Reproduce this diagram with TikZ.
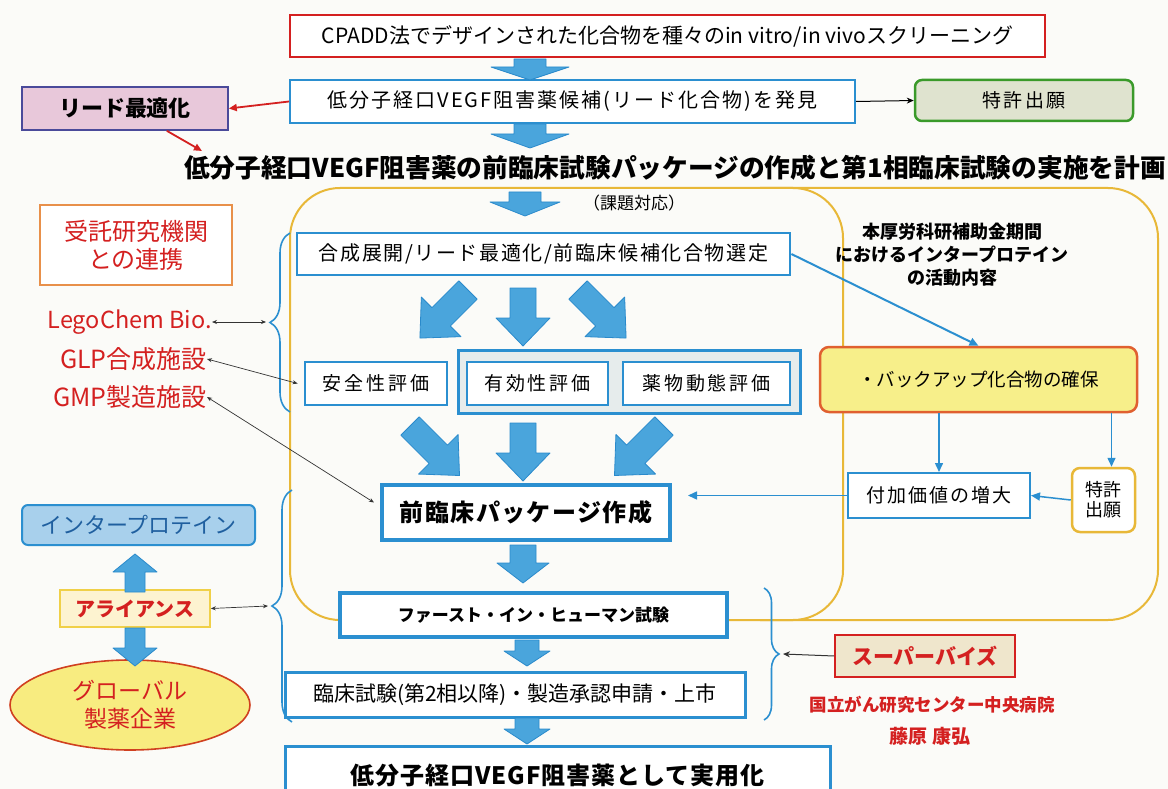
\documentclass[tikz,border=0pt]{standalone}
\usepackage{fontspec}
\setmainfont{Noto Sans CJK JP}
\usetikzlibrary{decorations.pathreplacing,arrows.meta,shapes.geometric}
\definecolor{bgc}{HTML}{FBFBF8}
\definecolor{bl}{HTML}{2B8FD0}
\definecolor{fatc}{HTML}{4AA5DC}
\definecolor{fatd}{HTML}{2A8ACB}
\definecolor{rd}{HTML}{D42020}
\definecolor{yl}{HTML}{E8B838}
\definecolor{pinkf}{HTML}{E8C8DA}
\definecolor{purp}{HTML}{4A4A9A}
\definecolor{grn}{HTML}{3A9A2A}
\definecolor{grnf}{HTML}{DFE3CF}
\definecolor{org}{HTML}{E8904A}
\definecolor{ibf}{HTML}{A8D0EC}
\definecolor{ibt}{HTML}{1F5F9F}
\definecolor{alf}{HTML}{FDF3D0}
\definecolor{alb}{HTML}{F0D048}
\definecolor{elf}{HTML}{F8EC80}
\definecolor{elb}{HTML}{D04020}
\definecolor{bkf}{HTML}{F7EF8A}
\definecolor{bkb}{HTML}{E06030}
\definecolor{svf}{HTML}{EFE6CC}
\definecolor{grpf}{HTML}{E6ECEC}
\newcommand\fsz[1]{\fontsize{#1}{#1}\selectfont}
\newcommand\fatarr[7]{\path[fatarrow, shift={(#1,#2)}, rotate=#3] (0,-#5/2) -- (#4-#7,-#5/2) -- (#4-#7,-#6/2) -- (#4,0) -- (#4-#7,#6/2) -- (#4-#7,#5/2) -- (0,#5/2) -- cycle;}
\tikzset{
  fatarrow/.style={fill=fatc, draw=fatd, line width=0.8pt, line join=round},
  bbox/.style={draw=bl, line width=2.8pt, fill=white, inner sep=0pt, align=center},
  thin2/.style={<->, >={Stealth[length=5pt,width=4pt]}, line width=0.7pt, black!80},
  bluearr/.style={->, >={Triangle[length=9pt,width=8pt]}, draw=bl, line width=1.5pt},
  redarr/.style={->, >={Triangle[length=8pt,width=7pt]}, draw=rd, line width=1.8pt},
  brc/.style={decorate, draw=bl, line width=1.6pt},
  redtxt/.style={text=rd, inner sep=0pt},
}
\begin{document}
\begin{tikzpicture}[x=1pt,y=-1pt]
\useasboundingbox (0,0) rectangle (1168,789);
\clip (0,0) rectangle (1168,789);
\fill[bgc] (0,0) rectangle (1168,789);

% yellow panels
\draw[yl, line width=2pt, rounded corners=50pt] (290,188) rectangle (1158,620);
\draw[yl, line width=2pt, rounded corners=50pt] (760,188) -- (843,188) -- (843,620) -- (760,620);

% top flow
\node[draw=rd, line width=1.6pt, fill=white, minimum width=755pt, minimum height=42pt, font=\fsz{21}] (top) at (667.5,36) {CPADD法でデザインされた化合物を種々のin vitro/in vivoスクリーニング};
\node[bbox, line width=2pt, minimum width=565pt, minimum height=43pt, font=\fsz{20}\addfontfeature{LetterSpace=10}] (cand) at (572.5,101.5) {低分子経口VEGF阻害薬候補(リード化合物)を発見};
\node[draw=purp, line width=1.6pt, fill=pinkf, minimum width=206pt, minimum height=43pt, font=\fsz{22}\bfseries] (lead) at (125,108.5) {リード最適化};
\node[draw=grn, line width=2.5pt, fill=grnf, rounded corners=7pt, minimum width=218pt, minimum height=41pt, font=\fsz{19}\addfontfeature{LetterSpace=12}] (pat) at (1024,100.5) {特許出願};
\node[font=\fsz{25.7}\bfseries, inner sep=0pt] (title) at (675,168) {低分子経口VEGF阻害薬の前臨床試験パッケージの作成と第1相臨床試験の実施を計画};
\coordinate (tt) at (202,151);

\fatarr{530}{59}{-90}{21}{32}{78}{13}
\fatarr{530}{124}{-90}{24}{32}{78}{14}
\fatarr{525}{192}{-90}{24}{32}{70}{14}
\node[font=\fsz{17}, inner sep=0pt] (kadai) at (634,203) {（課題対応）};

% left panel flow
\node[bbox, minimum width=493pt, minimum height=42pt, font=\fsz{20}\addfontfeature{LetterSpace=8}] (gosei) at (543.5,254) {合成展開/リード最適化/前臨床候補化合物選定};
\node[draw=bl, line width=3pt, fill=grpf, minimum width=342pt, minimum height=63pt] (grp) at (629,381.5) {};
\node[bbox, minimum width=142pt, minimum height=43pt, font=\fsz{19}\addfontfeature{LetterSpace=15}] (anzen) at (376,383.5) {安全性評価};
\node[bbox, minimum width=141pt, minimum height=43pt, font=\fsz{19}\addfontfeature{LetterSpace=15}] (yuko) at (537.5,383.5) {有効性評価};
\node[bbox, minimum width=167pt, minimum height=43pt, font=\fsz{19}\addfontfeature{LetterSpace=15}] (yaku) at (706.5,383.5) {薬物動態評価};
\node[bbox, line width=4pt, minimum width=288pt, minimum height=55pt, font=\fsz{24}\bfseries\addfontfeature{LetterSpace=6}] (zen) at (526,512.5) {前臨床パッケージ作成};
\node[bbox, line width=4pt, minimum width=387pt, minimum height=44pt, font=\fsz{17}\bfseries] (fih) at (533.5,615) {ファースト・イン・ヒューマン試験};
\node[bbox, line width=3pt, minimum width=460pt, minimum height=45pt, font=\fsz{21}] (rin) at (515,694.5) {臨床試験(第2相以降)・製造承認申請・上市};
\node[bbox, line width=3pt, minimum width=545pt, minimum height=60pt, text depth=0pt, font=\fsz{24}\bfseries\addfontfeature{LetterSpace=4}] (fin) at (557.5,776) {\raisebox{3pt}{低分子経口VEGF阻害薬として実用化}};

\fatarr{468}{290}{-135}{68}{26}{56}{30}
\fatarr{523}{288}{-90}{58}{26}{54}{28}
\fatarr{578}{290}{-45}{68}{26}{56}{30}
\fatarr{410}{426}{-45}{70}{26}{56}{30}
\fatarr{523}{423}{-90}{58}{26}{54}{28}
\fatarr{664}{426}{-135}{70}{26}{56}{30}
\fatarr{523}{545}{-90}{38}{26}{52}{20}
\fatarr{527}{640}{-90}{26}{24}{46}{15}
\fatarr{527}{718}{-90}{26}{24}{46}{15}

% right panel
\node[font=\fsz{18}\bfseries, align=center, inner sep=0pt] (rtxt) at (952,255) {本厚労科研補助金期間\\[5pt]におけるインタープロテイン\\[5pt]の活動内容};
\node[draw=bkb, line width=2.5pt, fill=bkf, rounded corners=9pt, minimum width=317pt, minimum height=65pt, font=\fsz{18.5}] (bk) at (978.5,379.5) {・バックアップ化合物の確保};
\node[draw=bl, line width=2pt, fill=white, minimum width=182pt, minimum height=45pt, font=\fsz{19}\addfontfeature{LetterSpace=10}] (fuka) at (939,495.5) {付加価値の増大};
\node[draw=yl, line width=2.5pt, fill=white, rounded corners=8pt, minimum width=63pt, minimum height=64pt, align=center, font=\fsz{18}] (tk2) at (1103.5,500) {特許\\[2pt]出願};
\coordinate (zp) at (688,495.5);

% left side
\node[draw=org, line width=2.5pt, fill=white, minimum width=192pt, minimum height=80pt, align=center, text=rd, font=\fsz{24}] (juta) at (136,245) {受託研究機関\\[4pt]との連携};
\node[redtxt, anchor=east, font=\fsz{23.5}] (lego) at (212,322) {LegoChem Bio.};
\node[redtxt, anchor=east, font=\fsz{25}] (glp) at (207,359) {GLP合成施設};
\node[redtxt, anchor=east, font=\fsz{25}] (gmp) at (207,397) {GMP製造施設};
\node[draw=bl, line width=2pt, fill=ibf, rounded corners=6pt, minimum width=233pt, minimum height=40pt, text=ibt, font=\fsz{22}] (ip) at (138.5,525) {インタープロテイン};
\node[draw=alb, line width=1.6pt, fill=alf, minimum width=150pt, minimum height=37pt, text=rd, font=\fsz{20}\bfseries] (al) at (135,608.5) {アライアンス};
\node[ellipse, draw=elb, line width=1.6pt, fill=elf, minimum width=240pt, minimum height=90pt, align=center, text=rd, font=\fsz{23}] (gl) at (130,705) {グローバル\\[5pt]製薬企業};
\fatarr{135}{592}{90}{38}{20}{44}{18}
\fatarr{135}{628}{-90}{38}{20}{44}{18}

% supervise
\node[draw=rd, line width=1.6pt, fill=svf, minimum width=180pt, minimum height=42pt, text=rd, font=\fsz{21}\bfseries] (sv) at (925,656) {スーパーバイズ};
\node[redtxt, font=\fsz{17.5}\bfseries] (ncc) at (932,705) {国立がん研究センター中央病院};
\node[redtxt, font=\fsz{19}\bfseries] (fuj) at (930,736) {藤原\ 康弘};

% braces
\draw[brc, decoration={brace, amplitude=20pt}] (290,412) -- (290,233);
\draw[brc, decoration={brace, amplitude=20pt}] (292,722) -- (292,490);
\draw[brc, decoration={brace, amplitude=15pt}] (764,588) -- (764,720);
\coordinate (b1) at (266,322);
\coordinate (b2) at (268,606);
\coordinate (b3) at (783,654);

% connectors
\draw[redarr] (cand.west) -- (lead.east);
\draw[redarr] ([xshift=-62pt]lead.south east) -- (tt);
\draw[->, >={Stealth[length=7pt,width=6pt]}, line width=1pt] (cand.east) -- (pat.west);
\draw[bluearr, line width=2pt] (gosei.east) -- (bk.north);
\draw[bluearr] (fuka.north |- bk.south) -- (fuka.north);
\draw[bluearr] ([xshift=8pt]tk2.north |- bk.south) -- ([xshift=8pt]tk2.north);
\draw[bluearr] (tk2.west) -- (fuka.east);
\draw[bluearr] (fuka.west) -- (zp);
\draw[thin2] (lego.east) -- (b1);
\draw[thin2] (glp.east) -- ([xshift=-6pt]anzen.west);
\draw[thin2] (gmp.east) -- ([xshift=-6pt,yshift=10pt]zen.west);
\draw[thin2] (al.east) -- (b2);
\draw[->, >={Stealth[length=7pt,width=6pt]}, line width=1pt, black!80] (sv.west) -- (b3);
\end{tikzpicture}
\end{document}
